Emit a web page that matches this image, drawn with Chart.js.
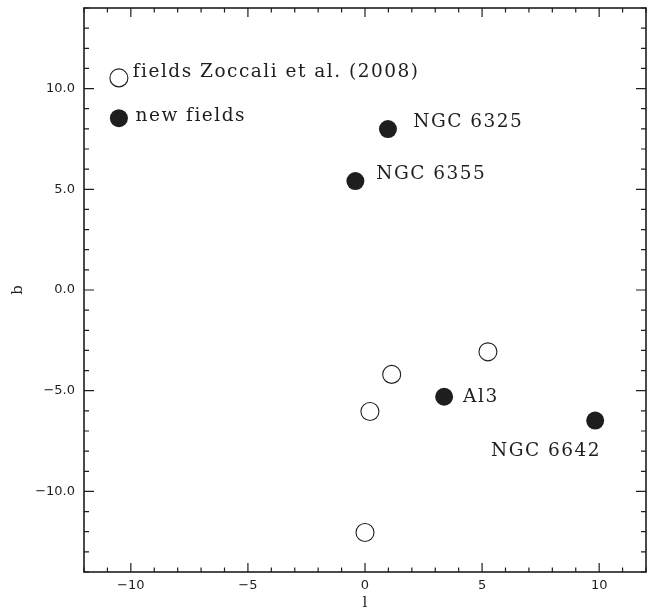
<!DOCTYPE html>
<html>
<head>
<meta charset="utf-8">
<script src="https://cdn.jsdelivr.net/npm/chart.js@4/dist/chart.umd.min.js"></script>
<style>
  html, body { margin: 0; padding: 0; background: #fff; }
  #wrap { width: 654px; height: 612px; }
</style>
</head>
<body>
<div id="wrap"><canvas id="chart" width="654" height="612"></canvas></div>
<script>
// fields from Zoccali et al. (2008), open circles
const oldL = [1.14, 0.21, 0.0, 5.25];
const oldB = [-4.19, -6.03, -12.04, -3.07];

// new fields (globular clusters), filled circles
const newNames = ['NGC 6325', 'NGC 6355', 'Al3', 'NGC 6642'];
const newL = [0.98, -0.41, 3.38, 9.83];
const newB = [7.99, 5.41, -5.30, -6.48];

// legend symbols placed inside the plot
const legendNames = ['fields Zoccali et al. (2008)', 'new fields'];
const legendL = [-10.51, -10.51];
const legendB = [10.53, 8.53];

const xTicks = [-10, -5, 0, 5, 10];
const yTicks = [-10, -5, 0, 5, 10];

// where the text labels sit (data coords, left edge / middle)
const labelPos = [
  { text: legendNames[0], l: -9.92, b: 10.8 },
  { text: legendNames[1], l: -9.8, b: 8.63 },
  { text: newNames[0], l: 2.06, b: 8.34 },
  { text: newNames[1], l: 0.48, b: 5.74 },
  { text: newNames[2], l: 4.19, b: -5.32 },
  { text: newNames[3], l: 5.38, b: -8.01 }
];

const ink = '#1e1e1e';
const fmt = (v, d) => (v < 0 ? '\u2212' : '') + Math.abs(v).toFixed(d);

const frame = {
  id: 'frame',
  afterDraw(chart) {
    const { ctx, chartArea: a, scales: { x, y } } = chart;
    ctx.save();
    ctx.strokeStyle = ink;
    ctx.lineWidth = 1.6;
    ctx.strokeRect(a.left, a.top, a.right - a.left, a.bottom - a.top);
    ctx.lineWidth = 1.2;
    ctx.beginPath();
    for (let v = -12; v <= 12; v++) {
      const px = x.getPixelForValue(v);
      const len = v % 5 === 0 ? 9 : 4.5;
      ctx.moveTo(px, a.bottom); ctx.lineTo(px, a.bottom - len);
      ctx.moveTo(px, a.top); ctx.lineTo(px, a.top + len);
    }
    for (let v = -14; v <= 14; v++) {
      const py = y.getPixelForValue(v);
      const len = v % 5 === 0 ? 10 : 5;
      ctx.moveTo(a.left, py); ctx.lineTo(a.left + len, py);
      ctx.moveTo(a.right, py); ctx.lineTo(a.right - len, py);
    }
    ctx.stroke();

    // annotations
    ctx.fillStyle = ink;
    ctx.font = '18.5px "DejaVu Serif"';
    ctx.textBaseline = 'middle';
    ctx.textAlign = 'left';
    if ('letterSpacing' in ctx) ctx.letterSpacing = '1.5px';
    labelPos.forEach(p => {
      ctx.fillText(p.text, x.getPixelForValue(p.l), y.getPixelForValue(p.b));
    });
    ctx.restore();
  }
};

new Chart(document.getElementById('chart'), {
  type: 'scatter',
  data: {
    datasets: [
      {
        label: 'fields Zoccali et al. (2008)',
        data: oldL.map((l, i) => ({ x: l, y: oldB[i] })).concat([{ x: legendL[0], y: legendB[0] }]),
        pointRadius: 9,
        pointBackgroundColor: '#fff',
        pointBorderColor: ink,
        pointBorderWidth: 1.1
      },
      {
        label: 'new fields',
        data: newL.map((l, i) => ({ x: l, y: newB[i] })).concat([{ x: legendL[1], y: legendB[1] }]),
        pointRadius: 9,
        pointBackgroundColor: ink,
        pointBorderColor: ink,
        pointBorderWidth: 0
      }
    ]
  },
  options: {
    responsive: false,
    animation: false,
    layout: { autoPadding: false, padding: { left: 0, right: 8, top: 8, bottom: 0 } },
    plugins: { legend: { display: false }, tooltip: { enabled: false } },
    scales: {
      x: {
        type: 'linear',
        min: -12, max: 12,
        afterBuildTicks: s => { s.ticks = xTicks.map(v => ({ value: v })); },
        afterFit: s => { s.height = 40; s.paddingLeft = 0; s.paddingRight = 0; },
        grid: { display: false, drawTicks: false },
        border: { display: false },
        ticks: {
          padding: 6,
          color: ink,
          font: { family: 'DejaVu Sans', size: 13 },
          callback: v => fmt(v, 0)
        },
        title: {
          display: true, text: 'l', color: ink,
          font: { family: 'DejaVu Serif', size: 15 },
          padding: { top: 0, bottom: 0 }
        }
      },
      y: {
        type: 'linear',
        min: -14, max: 14,
        afterBuildTicks: s => { s.ticks = yTicks.map(v => ({ value: v })); },
        afterFit: s => { s.width = 84; s.paddingTop = 0; s.paddingBottom = 0; },
        grid: { display: false, drawTicks: false },
        border: { display: false },
        ticks: {
          padding: 9,
          color: ink,
          font: { family: 'DejaVu Sans', size: 13 },
          callback: v => fmt(v, 1)
        },
        title: {
          display: true, text: 'b', color: ink,
          font: { family: 'DejaVu Serif', size: 15 },
          padding: { top: 9, bottom: 0 }
        }
      }
    }
  },
  plugins: [frame]
});
</script>
</body>
</html>
